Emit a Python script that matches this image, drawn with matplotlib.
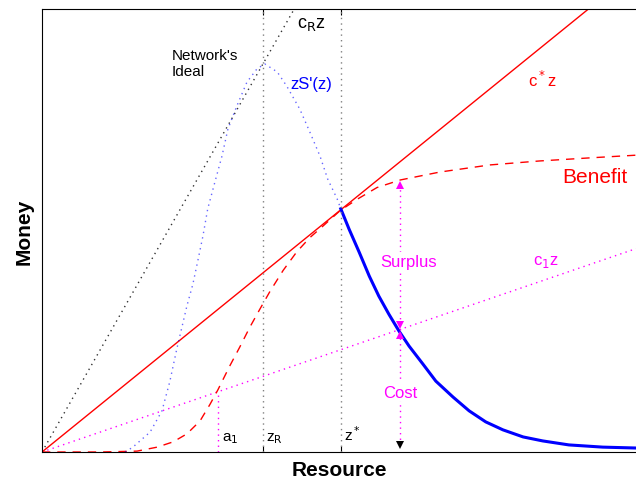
import matplotlib.pyplot as plt
import numpy as np

plt.rcParams['font.family'] = ['Liberation Sans', 'DejaVu Sans']

# key positions on the resource axis
a_1 = 2.96
z_R = 3.72
z_star = 5.03
z_arrow = 6.03

# slopes of the straight lines
c_star = 1.087
c_R = 2.355
c_1 = 0.459

# benefit curve (red dashed)
ben_x = [0.0, 1.0, 1.60, 1.94, 2.21, 2.44, 2.66, 2.83, 2.96, 3.16, 3.33, 3.50, 3.67, 3.84,
         4.06, 4.29, 4.51, 4.73, 5.02, 5.30, 5.64, 6.03, 6.70, 7.54, 8.38, 9.23, 10.0]
ben_y = [0.0, 0.0, 0.02, 0.11, 0.23, 0.41, 0.70, 1.08, 1.40, 1.94, 2.37, 2.82, 3.23, 3.63,
         4.10, 4.52, 4.84, 5.10, 5.45, 5.70, 5.97, 6.14, 6.32, 6.48, 6.57, 6.64, 6.70]

# zS'(z), dotted part up to z*
zs_x = [1.40, 1.53, 1.82, 2.02, 2.15, 2.27, 2.44, 2.54, 2.63, 2.71, 2.79, 2.91, 3.03, 3.13,
        3.28, 3.45, 3.62, 3.75, 3.96, 4.12, 4.34, 4.51, 4.68, 4.81, 4.97, 5.03]
zs_y = [0.0, 0.11, 0.45, 0.93, 1.58, 2.33, 3.30, 3.79, 4.36, 4.88, 5.49, 6.09, 6.68, 7.29,
        7.81, 8.35, 8.65, 8.76, 8.58, 8.26, 7.74, 7.22, 6.68, 6.16, 5.71, 5.49]

# zS'(z), solid part beyond z*
zs2_x = [5.03, 5.17, 5.34, 5.51, 5.67, 5.84, 6.01, 6.18, 6.41, 6.63, 6.92, 7.19, 7.47,
         7.76, 8.10, 8.43, 8.87, 9.44, 10.0]
zs2_y = [5.49, 5.03, 4.51, 3.97, 3.52, 3.11, 2.73, 2.39, 1.99, 1.60, 1.24, 0.93, 0.68,
         0.50, 0.34, 0.25, 0.16, 0.11, 0.09]

benefit_at_arrow = 6.14
cost_at_arrow = 2.75

MAG = '#ff00ff'
dots = (1, 3)

fig = plt.figure(figsize=(6.36, 4.81), dpi=100)
ax = fig.add_axes([42/636, 28/481, 594/636, 443/481])

xs = np.array([0, 10])
ax.plot(xs, c_star*xs, color='red', lw=1)
ax.plot(xs, c_R*xs, color='black', lw=1, linestyle=(0, dots), alpha=0.8)
ax.plot(xs, c_1*xs, color=MAG, lw=1, linestyle=(0, dots))

ax.plot(ben_x, ben_y, color='red', lw=1, linestyle=(0, (6, 5)))
ax.plot(zs_x, zs_y, color='blue', lw=1, linestyle=(0, dots), alpha=0.6)
ax.plot(zs2_x, zs2_y, color='blue', lw=2.2)

# vertical guides
for xv in [z_R, z_star]:
    ax.axvline(xv, color='gray', lw=1, linestyle=(0, dots))
ax.plot([a_1, a_1], [0, c_1*a_1], color=MAG, lw=1, linestyle=(0, dots))

# surplus / cost arrows
bb = dict(facecolor='white', edgecolor='none', pad=1)
ax.plot([z_arrow, z_arrow], [cost_at_arrow, benefit_at_arrow], color=MAG, lw=1, linestyle=(0, dots))
ax.plot([z_arrow, z_arrow], [0.15, cost_at_arrow], color=MAG, lw=1, linestyle=(0, dots))
ax.plot([z_arrow], [benefit_at_arrow - 0.12], marker='^', color=MAG, ms=6, mew=0)
ax.plot([z_arrow], [cost_at_arrow + 0.12], marker='v', color=MAG, ms=6, mew=0)
ax.plot([z_arrow], [cost_at_arrow - 0.12], marker='^', color=MAG, ms=6, mew=0)
ax.plot([z_arrow], [0.16], marker='v', color='black', ms=6, mew=0)

ax.text(2.19, 9.12, "Network's\nIdeal", fontsize=11, va='top', ha='left', linespacing=1.15)
ax.text(4.29, 9.6, r'c$_\mathsf{R}$z', fontsize=13, ha='left', va='baseline')
ax.text(4.18, 8.31, "zS'(z)", fontsize=12, color='blue', ha='left', va='center')
ax.text(8.18, 8.42, r'c$^*$z', fontsize=12, color='red', ha='left', va='center')
ax.text(8.75, 6.23, 'Benefit', fontsize=15, color='red', ha='left', va='center')
ax.text(5.69, 4.31, 'Surplus', fontsize=12, color=MAG, ha='left', va='center', bbox=bb)
ax.text(8.27, 4.31, r'c$_\mathsf{1}$z', fontsize=12, color=MAG, ha='left', va='center')
ax.text(z_arrow, 1.35, 'Cost', fontsize=12, color=MAG, ha='center', va='center', bbox=bb)
ax.text(a_1 + 0.07, 0.27, r'a$_\mathsf{1}$', fontsize=11, ha='left', va='baseline')
ax.text(z_R + 0.05, 0.27, r'z$_\mathsf{R}$', fontsize=11, ha='left', va='baseline')
ax.text(z_star + 0.05, 0.27, r'z$^*$', fontsize=11, ha='left', va='baseline')

ax.set_xlim(0, 10)
ax.set_ylim(0, 10)
ax.spines['right'].set_visible(False)
ax.set_xticks([z_R, z_star])
ax.set_xticklabels([])
ax.set_yticks([])
ax.tick_params(axis='x', direction='in', top=True, length=4)

ax.set_xlabel('Resource', fontsize=15, fontweight='bold', labelpad=2)
ax.set_ylabel('Money', fontsize=15, fontweight='bold', labelpad=6)

fig.savefig('out.png', dpi=100)
